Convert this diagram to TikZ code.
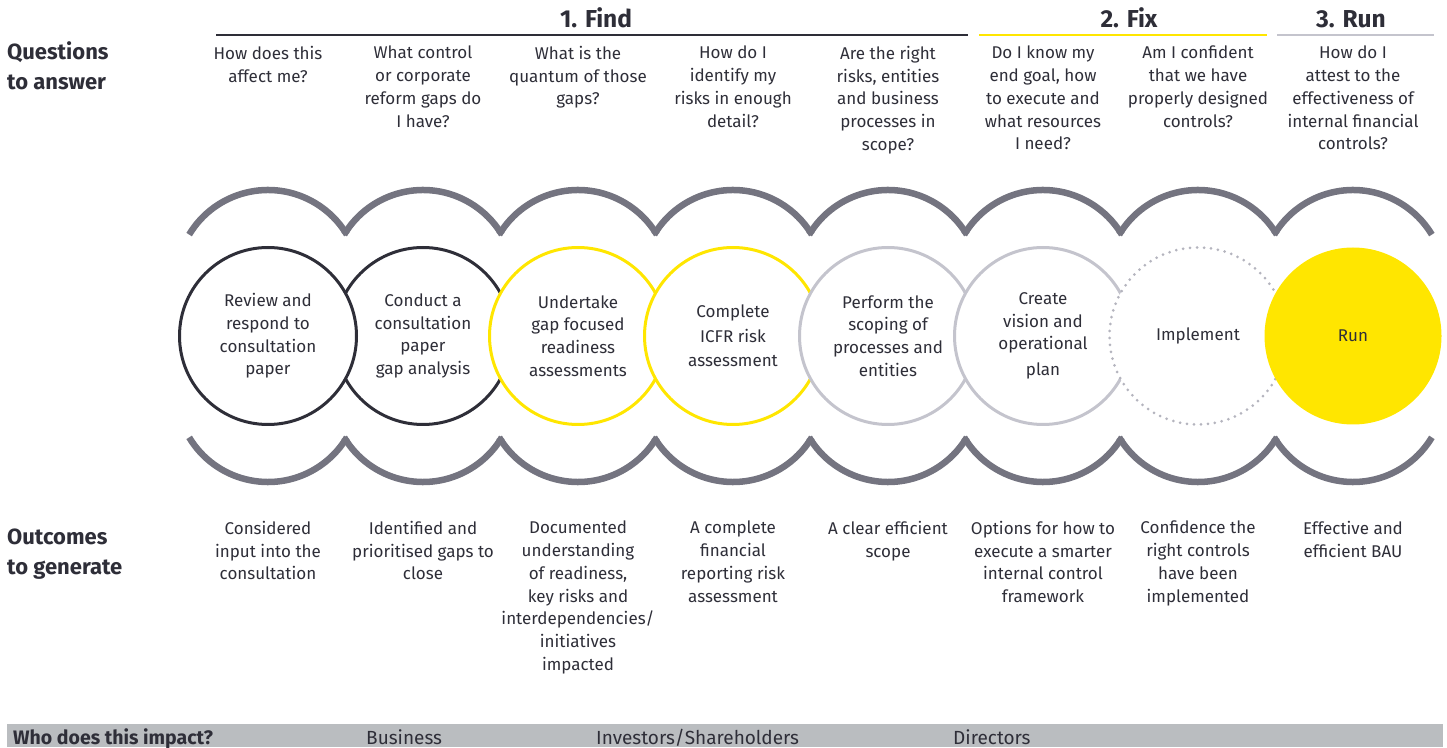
\documentclass[tikz,border=0pt]{standalone}
\usepackage{fontspec}
\setmainfont{Fira Sans}
\definecolor{eydark}{HTML}{2E2E38}
\definecolor{eyyellow}{HTML}{FFE600}
\definecolor{eyarc}{HTML}{747480}
\definecolor{eylight}{HTML}{C4C4CD}
\definecolor{eydots}{HTML}{B4B4BE}
\definecolor{eybar}{HTML}{BABDC0}
\tikzset{
  stage/.style={circle, minimum size=177pt, inner sep=0pt, line width=3pt, fill=white,
    align=center, text=eydark, font=\fontsize{17}{22.7}\selectfont},
  qtext/.style={align=center, anchor=north, inner sep=0pt, text=eydark,
    font=\fontsize{17}{22.7}\selectfont},
  side/.style={align=left, anchor=north west, inner sep=0pt, text=eydark,
    font=\bfseries\fontsize{22}{30}\selectfont},
  phase/.style={anchor=base, inner sep=0pt, text=eydark, font=\bfseries\fontsize{24.5}{28}\selectfont},
  who/.style={anchor=base west, inner sep=0pt, text=eydark, font=\fontsize{19}{22}\selectfont},
  scallop/.style={eyarc, line width=6.5pt},
  phaseline/.style={line width=2.5pt}
}
\begin{document}
\begin{tikzpicture}[x=1pt,y=1pt]
\useasboundingbox (0,0) rectangle (1447,747);

% phase headings
\node[phase] (find) at (596,719) {1. Find};
\node[phase] (fix) at (1129,719) {2. Fix};
\node[phase] (run) at (1351,719) {3. Run};
\draw[phaseline, eydark] (216,712) -- (968,712);
\draw[phaseline, eyyellow] (979,712) -- (1267,712);
\draw[phaseline, eylight] (1277,712) -- (1434,712);

% row labels
\node[side] (questions) at (7,706) {Questions\\to answer};
\node[side] (outcomes) at (7,218) {Outcomes\\to generate};

% questions
\node[qtext] (q1) at (268,701) {How does this\\affect me?};
\node[qtext] (q2) at (423,701) {What control\\or corporate\\reform gaps do\\I have?};
\node[qtext] (q3) at (578,701) {What is the\\quantum of those\\gaps?};
\node[qtext] (q4) at (733,701) {How do I\\identify my\\risks in enough\\detail?};
\node[qtext] (q5) at (888,701) {Are the right\\risks, entities\\and business\\processes in\\scope?};
\node[qtext] (q6) at (1043,701) {Do I know my\\end goal, how\\to execute and\\what resources\\I need?};
\node[qtext] (q7) at (1198,701) {Am I confident\\that we have\\properly designed\\controls?};
\node[qtext] (q8) at (1353,701) {How do I\\attest to the\\effectiveness of\\internal financial\\controls?};

% scallops above and below
\foreach \cx in {268,423,578,733,888,1043,1198,1353}{
  \draw[scallop] (\cx,465) ++(149:92) arc[start angle=149, end angle=31, radius=92];
  \draw[scallop] (\cx,357) ++(211:92) arc[start angle=211, end angle=329, radius=92];
}

% stages
\node[stage, draw=eydark] (c2) at (423,411) {Conduct a\\consultation\\paper\\gap analysis};
\node[stage, draw=eydark] (c1) at (268,411) {Review and\\respond to\\consultation\\paper};
\node[stage, draw=eyyellow] (c3) at (578,411) {Undertake\\gap focused\\readiness\\assessments};
\node[stage, draw=eyyellow] (c4) at (733,411) {Complete\\[2pt]ICFR risk\\[2pt]assessment};
\node[stage, draw=eylight] (c5) at (888,411) {Perform the\\scoping of\\processes and\\entities};
\node[stage, draw=eylight] (c6) at (1043,411) {Create\\vision and\\operational\\[3pt]plan};
\node[stage, draw=eydots, line cap=round, dash pattern=on 0pt off 7pt] (c7) at (1198,411) {Implement};
\node[stage, fill=eyyellow] (c8) at (1353,411) {Run};

% outcomes
\node[qtext] (o1) at (268,226) {Considered\\input into the\\consultation};
\node[qtext] (o2) at (423,226) {Identified and\\prioritised gaps to\\close};
\node[qtext] (o3) at (578,226) {Documented\\understanding\\of readiness,\\key risks and\\interdependencies/\\initiatives\\impacted};
\node[qtext] (o4) at (733,226) {A complete\\financial\\reporting risk\\assessment};
\node[qtext] (o5) at (888,226) {A clear efficient\\scope};
\node[qtext] (o6) at (1043,226) {Options for how to\\execute a smarter\\internal control\\framework};
\node[qtext] (o7) at (1198,226) {Confidence the\\right controls\\have been\\implemented};
\node[qtext] (o8) at (1353,226) {Effective and\\efficient BAU};

% impact bar
\fill[eybar] (7,0) rectangle (1443,23);
\node[who, font=\bfseries\fontsize{19.5}{22}\selectfont] (impact) at (13,3) {Who does this impact?};
\node[who] (business) at (366,3) {Business};
\node[who] (investors) at (596,3) {Investors/Shareholders};
\node[who] (directors) at (953,3) {Directors};
\end{tikzpicture}
\end{document}
